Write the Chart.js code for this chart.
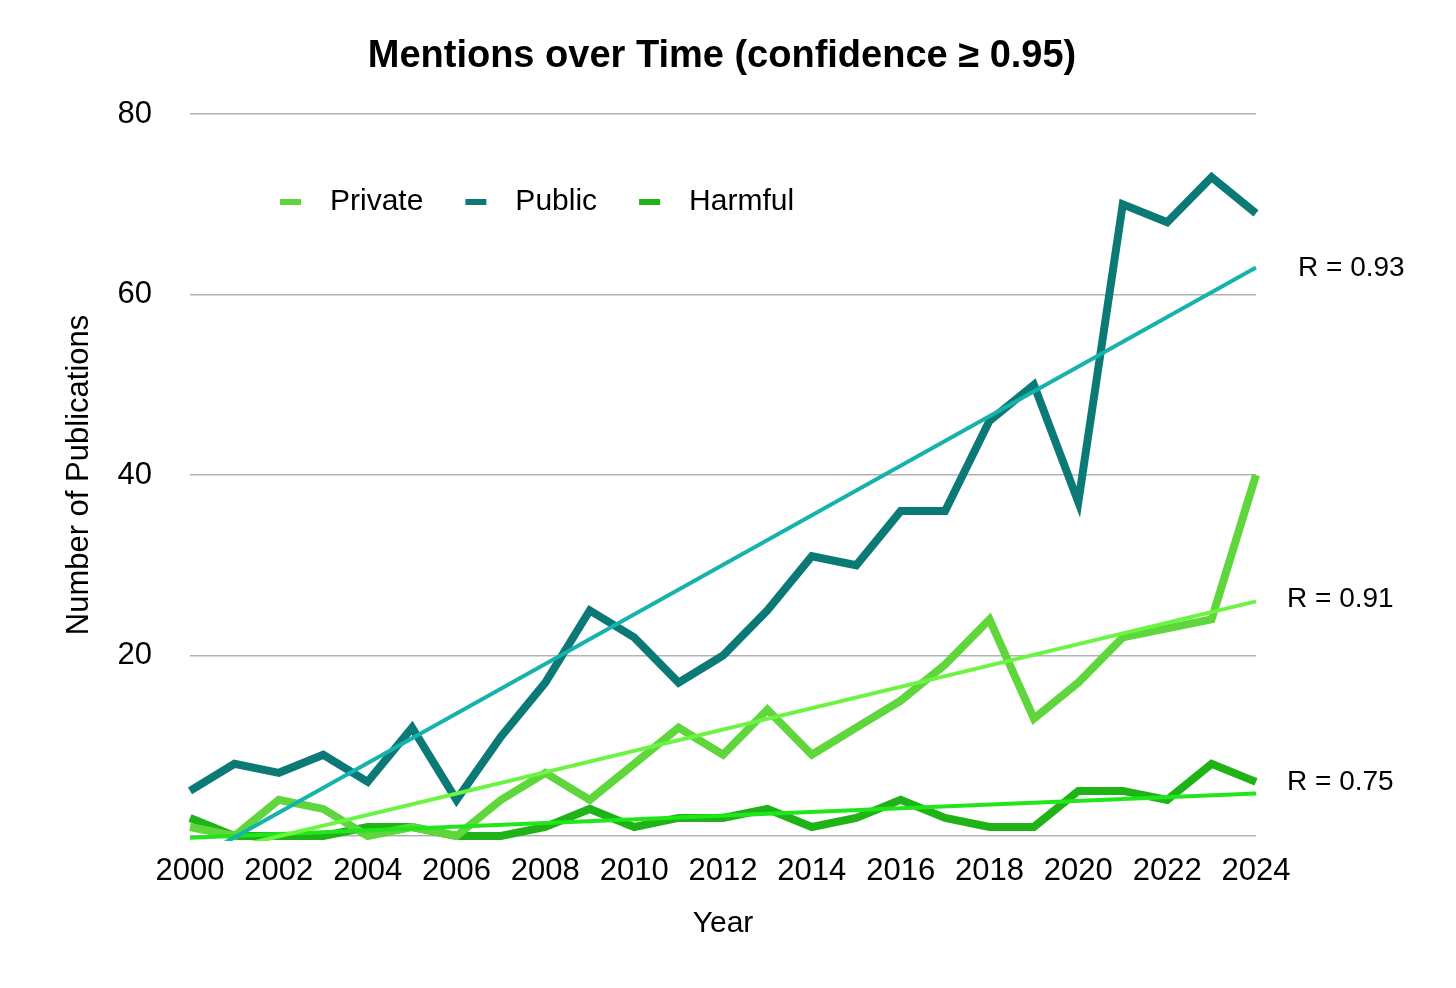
<!DOCTYPE html>
<html>
<head>
<meta charset="utf-8">
<script src="https://cdn.jsdelivr.net/npm/chart.js@4.4.1/dist/chart.umd.min.js"></script>
<style>
  html, body { margin: 0; padding: 0; background: #fff; }
  #wrap { width: 1456px; height: 988px; position: relative; }
</style>
</head>
<body>
<div id="wrap"><canvas id="myChart"></canvas></div>
<script>
// data
const years = ["2000","2001","2002","2003","2004","2005","2006","2007","2008","2009","2010","2011","2012",
  "2013","2014","2015","2016","2017","2018","2019","2020","2021","2022","2023","2024"];
const privateVals = [1,0,4,3,0,1,0,4,7,4,8,12,9,14,9,12,15,19,24,13,17,22,23,24,40];
const publicVals  = [5,8,7,9,6,12,4,11,17,25,22,17,20,25,31,30,36,36,46,50,37,70,68,73,69];
const harmfulVals = [2,0,0,0,1,1,0,0,1,3,1,2,2,3,1,2,4,2,1,1,5,5,4,8,6];
// trend line ends (first year, last year)
const publicTrend  = [-2.9, 63];
const privateTrend = [-2.4, 26];
const harmfulTrend = [-0.2, 4.7];
const rLabels = ["R = 0.93", "R = 0.91", "R = 0.75"];
const yTicks = [0, 20, 40, 60, 80];

const FONT = "'Liberation Sans', Arial, Helvetica, sans-serif";

// only the two ends are filled, spanGaps joins them
function trendSeries(ends) {
  const arr = years.map(() => null);
  arr[0] = ends[0];
  arr[arr.length - 1] = ends[1];
  return arr;
}

const colPrivate = "#5ed63c";
const colPublic = "#0b7a77";
const colHarmful = "#1fb318";

const datasets = [
  { label: "Private", data: privateVals, borderColor: colPrivate, borderWidth: 8 },
  { label: "Public", data: publicVals, borderColor: colPublic, borderWidth: 8 },
  { label: "Harmful", data: harmfulVals, borderColor: colHarmful, borderWidth: 8 },
  { label: "pubTrend", data: trendSeries(publicTrend), borderColor: "#16b2ac", borderWidth: 4, spanGaps: true, trend: true, rText: rLabels[0], rDx: 42, rDy: 1 },
  { label: "privTrend", data: trendSeries(privateTrend), borderColor: "#6bf542", borderWidth: 4, spanGaps: true, trend: true, rText: rLabels[1], rDx: 31, rDy: -2 },
  { label: "harmTrend", data: trendSeries(harmfulTrend), borderColor: "#22e61c", borderWidth: 4, spanGaps: true, trend: true, rText: rLabels[2], rDx: 31, rDy: -11 }
];
datasets.forEach(d => { d.pointRadius = 0; d.tension = 0; d.fill = false; d.borderJoinStyle = "miter"; d.clip = 5; });
// trend lines drawn on top
datasets.forEach(d => { d.order = d.trend ? 0 : 1; });

const extras = {
  id: "extras",
  afterDraw(chart) {
    const ctx = chart.ctx;
    const xs = chart.scales.x, ys = chart.scales.y;
    ctx.save();
    // title
    ctx.fillStyle = "#000";
    ctx.font = "bold 38px " + FONT;
    ctx.textAlign = "center";
    ctx.textBaseline = "middle";
    ctx.fillText("Mentions over Time (confidence \u2265 0.95)", 722, 57);

    // R labels
    ctx.font = "28px " + FONT;
    ctx.textAlign = "left";
    chart.data.datasets.forEach(d => {
      if (!d.trend) return;
      const last = d.data[d.data.length - 1];
      const px = xs.getPixelForValue(years.length - 1);
      const py = ys.getPixelForValue(last);
      ctx.fillText(d.rText, px + d.rDx, py + d.rDy);
    });

    // legend
    ctx.font = "30px " + FONT;
    let x = 280;
    const ly = 202;
    chart.data.datasets.filter(d => !d.trend).forEach(d => {
      ctx.fillStyle = d.borderColor;
      ctx.fillRect(x, ly - 3, 21, 6);
      x += 50;
      ctx.fillStyle = "#000";
      ctx.fillText(d.label, x, ly);
      x += ctx.measureText(d.label).width + 42;
    });
    ctx.restore();
  }
};

const config = {
  type: "line",
  data: { labels: years, datasets },
  options: {
    responsive: true,
    maintainAspectRatio: false,
    animation: false,
    layout: { padding: { left: 57, right: 200, top: 114, bottom: 42 } },
    plugins: { legend: { display: false }, tooltip: { enabled: false } },
    scales: {
      x: {
        offset: false,
        grid: { display: false, drawTicks: false },
        border: { display: false },
        ticks: {
          autoSkip: false, maxRotation: 0, padding: 17, color: "#000",
          font: { family: FONT, size: 31 },
          callback: (v, i) => (i % 2 === 0 ? years[i] : "")
        },
        title: { display: true, text: "Year", color: "#000", font: { family: FONT, size: 30 }, padding: { top: 4, bottom: 4 } },
        afterFit: s => { s.height = 988 - 836 - 42; }
      },
      y: {
        min: 0, max: 80,
        afterBuildTicks: s => { s.ticks = yTicks.map(v => ({ value: v })); },
        grid: { color: "#b3b3b3", lineWidth: 1.5, drawTicks: false },
        border: { display: false },
        ticks: {
          padding: 38, color: "#000",
          font: { family: FONT, size: 31 },
          callback: v => (v === 0 ? "" : v)
        },
        title: { display: true, text: "Number of Publications", color: "#000", font: { family: FONT, size: 31 }, padding: { top: 4, bottom: 4 } },
        afterFit: s => { s.width = 190 - 57; }
      }
    }
  },
  plugins: [extras]
};

const chart = document.getElementById("myChart");
const myChart = new Chart(chart, config);
</script>
</body>
</html>
